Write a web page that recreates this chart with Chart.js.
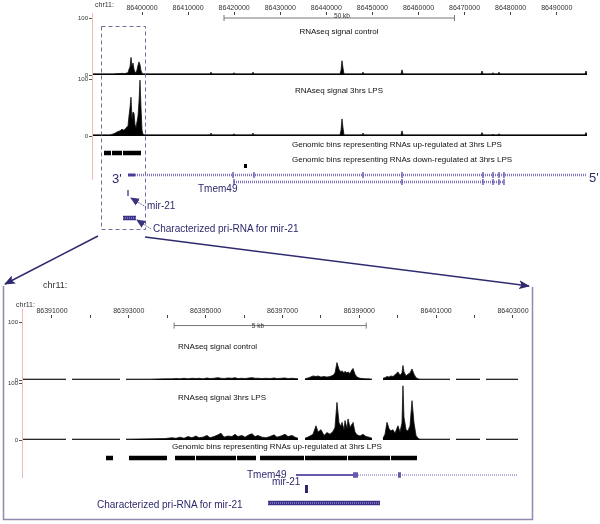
<!DOCTYPE html>
<html><head><meta charset="utf-8">
<script src="https://cdn.jsdelivr.net/npm/chart.js@4.4.1/dist/chart.umd.min.js"></script>
<style>
html,body{margin:0;padding:0;background:#fff;}
#wrap{position:relative;width:600px;height:524px;overflow:hidden;font-family:"Liberation Sans",Arial,Helvetica,sans-serif;background:#fff;}
canvas{position:absolute;z-index:1;}
.t{position:absolute;white-space:nowrap;line-height:1;z-index:3;}
svg{position:absolute;left:0;top:0;z-index:2;}
</style></head><body><div id="wrap">
<svg width="600" height="524">
 <defs>
  <marker id="a1" markerWidth="11" markerHeight="9" refX="10" refY="4.5" orient="auto" markerUnits="userSpaceOnUse"><path d="M0,0 L11,4.5 L0,9 L2.5,4.5 Z" fill="#2e2a6e"/></marker>
  <marker id="a2" markerWidth="9" markerHeight="8" refX="8" refY="4" orient="auto" markerUnits="userSpaceOnUse"><path d="M0,0 L9,4 L0,8 Z" fill="#3a347e"/></marker>
 </defs>
 <line x1="92.5" y1="13" x2="92.5" y2="180" stroke="#f3b9b9" stroke-width="1"/>
 <line x1="22.5" y1="309" x2="22.5" y2="478" stroke="#f3b9b9" stroke-width="1"/>
 <rect x="101.5" y="26.5" width="44" height="203" fill="none" stroke="#6e6e98" stroke-width="1" stroke-dasharray="4,3"/>
 <line x1="98" y1="236" x2="5" y2="284" stroke="#2e2a6e" stroke-width="1.5" marker-end="url(#a1)"/>
 <line x1="145" y1="237" x2="529" y2="286" stroke="#2e2a6e" stroke-width="1.5" marker-end="url(#a1)"/>
 <line x1="146" y1="207" x2="131" y2="198" stroke="#3a347e" stroke-width="0.8" stroke-dasharray="1.5,1" marker-end="url(#a2)"/>
 <line x1="151" y1="229" x2="137" y2="220" stroke="#3a347e" stroke-width="0.8" stroke-dasharray="1.5,1" marker-end="url(#a2)"/>
 <polyline points="3.5,286 3.5,519.5 532.5,519.5 532.5,287" fill="none" stroke="#8f8bb0" stroke-width="1.5"/>
</svg>
</div>
<script>
// ---------------- DATA ----------------
// top panel (chr11 overview)
const topRange = [86389150, 86496565];
const topTicks = [86400000,86410000,86420000,86430000,86440000,86450000,86460000,86470000,86480000,86490000];
const topTickLabels = ['86400000','86410000','86420000','86430000','86440000','86450000','86460000','86470000','86480000','86490000'];
const topScaleBar = [86417800, 86467800];
const topPos = [86389150,86393056,86393924,86394575,86395226,86395660,86396094,86396528,86396962,86397179,86397396,86397613,86397830,86398047,86398264,86398481,86398698,86398915,86399132,86399349,86399566,86399783,86400000,86400217,86400651,86414756,86414973,86415190,86419747,86419964,86420181,86423870,86424087,86424304,86434286,86434720,86435154,86442966,86443183,86443400,86443617,86443834,86447740,86447957,86448174,86456203,86456420,86456637,86457722,86458156,86458590,86473563,86473780,86473997,86475950,86476167,86476384,86477252,86477469,86477686,86490706,86491140,86491574,86496131,86496348,86496565];
const topCtrl = [2,2,2,2.5,2.5,3,2.5,3,4,10,14,31,15,21,10,5,4,9,17,23,18,8,3,2,2,2,5,2,2,4,2,2,5,2,2,2,2,2,8,25,12,2,2,5,2,2,9,2,2,2,2,2,7,2,2,4,2,2,5,2,2,2,2,2,7,2];
const topLps = [2,2,4,7,9,12,10,14,18,35,50,68,30,42,40,20,15,25,35,60,98,50,10,3,2,2,5,2,2,4,2,2,5,2,2,2,2,2,10,30,14,2,2,5,2,2,9,2,2,2,2,2,6,2,2,3,2,2,4,2,2,2,2,2,6,2];
const topBinsUpStart = [86391754, 86393490, 86395877];
const topBinsUpEnd   = [86393273, 86395660, 86399783];
const topBinsDownStart = [86422134];
const topBinsDownEnd   = [86422785];
const topTmemUtr = [86396962, 86398481];
const topTmemMain = [86398481, 86496565];
const topTmemAlt = [86419964, 86478554];
const topTmemMainExons = [86419750,86424300,86447960,86456420,86473990,86476170,86477470,86478550];
const topTmemAltExons = [86419964,86456420,86473990,86476170,86477470,86478550];
const topMir21 = 86396962;
const topPriRna = [86395877, 86398698];

// bottom panel (zoom)
const botRange = [86390220, 86403131];
const botTicks = [86391000,86392000,86393000,86394000,86395000,86396000,86397000,86398000,86399000,86400000,86401000,86402000,86403000];
const botTickLabels = ['86391000','','86393000','','86395000','','86397000','','86399000','','86401000','','86403000'];
const botScaleBar = [86394180, 86399180];
const botPos = [86390220,86391365,86391417,86391522,86392771,86392849,86392927,86393552,86393942,86394125,86394229,86394333,86394437,86394541,86394645,86394749,86394827,86394931,86395036,86395114,86395218,86395322,86395400,86395478,86395582,86395686,86395764,86395842,86395947,86396025,86396129,86396207,86396285,86396363,86396467,86396571,86396675,86396780,86396858,86396962,86397066,86397144,86397248,86397326,86397404,86397482,86397586,86397691,86397795,86397873,86397925,86398003,86398081,86398159,86398237,86398315,86398367,86398419,86398472,86398524,86398550,86398602,86398628,86398680,86398706,86398758,86398810,86398836,86398888,86398940,86399018,86399096,86399174,86399252,86399331,86399461,86399617,86399669,86399721,86399773,86399825,86399877,86399929,86400007,86400059,86400111,86400137,86400163,86400216,86400268,86400320,86400372,86400424,86400476,86400528,86400580,86401361,86401413,86401517,86402142,86402194,86402298,86403131];
const botCtrl = [1.5,1.5,null,1.5,1.5,null,1.5,1.5,2,2, 2.5,2,3,2,3,2.5,3,2,3.5,2.5, 3,4,3,2.5,3.5,3,4,2.5,3,2.5, 3.5,4,3,3,2.5,3,2.5,3.5,2.5,3, 3.5,2.5,3,2.5,2,null,2,4,7,6, 7,5,6,5,6,8,12,30,18,14, 16,12,15,12,14,11,18,20,10,5, 3,2.5,2,2,1.5,null,3,4,6,5, 7,6,9,14,8,12,25,14,7,10, 12,19,10,4,2,1.5,1.5,null,1.5,1.5, null,1.5,1.5];
const botLps = [1.5,1.5,null,1.5,1.5,null,1.5,2,2.5,4, 3,5,3,6,4,7,4,5,8,4, 6,9,12,5,7,6,10,6,8,5, 9,11,6,8,5,4,6,9,5,7, 10,6,8,5,3,null,3,6,10,25, 14,18,8,13,10,15,22,66,30,24, 31,18,34,20,37,22,28,31,14,9, 7,10,6,5,3,null,3,10,31,20, 16,18,12,25,14,30,95,40,18,16, 25,69,30,8,3,1.5,1.5,null,1.5,1.5, null,1.5,1.5];
const botBinsStart = [86392407,86393005,86394203,86394749,86395816,86396415,86397586,86398706,86399825];
const botBinsEnd   = [86392589,86393994,86394723,86395790,86396311,86397560,86398680,86399799,86400502];
const botTmemSolid = [86397352, 86398836];
const botTmemIntron = [86398966, 86403131];
const botTmemExonStart = [86398836, 86400007];
const botTmemExonEnd   = [86398966, 86400085];
const botMir21 = [86397586, 86397665];
const botPriRna = [86396623, 86399539];

// labels
const texts = [
  ['chr11:', 95, 4, 7, '#333', false],
  ['50 kb', 342, 16, 6.5, '#333', true],
  ['RNAseq signal control', 339, 32, 8, '#111', true],
  ['RNAseq signal 3hrs LPS', 339, 91, 8, '#111', true],
  ['Genomic bins representing RNAs up-regulated at 3hrs LPS', 292, 145, 8, '#111', false],
  ['Genomic bins representing RNAs down-regulated at 3hrs LPS', 292, 160, 8, '#111', false],
  ["3'", 112, 178, 13, '#2d2a6c', false],
  ["5'", 589, 177, 13, '#2d2a6c', false],
  ['Tmem49', 198, 189, 10, '#2d2a6c', false],
  ['mir-21', 147, 206, 10, '#2d2a6c', false],
  ['Characterized pri-RNA for mir-21', 153, 229, 10, '#2d2a6c', false],
  ['chr11:', 43, 285, 9, '#333', false],
  ['chr11:', 16, 304, 7, '#333', false],
  ['5 kb', 258, 326, 6.5, '#333', true],
  ['RNAseq signal control', 178, 347, 8, '#111', false],
  ['RNAseq signal 3hrs LPS', 178, 398, 8, '#111', false],
  ['Genomic bins representing RNAs up-regulated at 3hrs LPS', 172, 447, 8, '#111', false],
  ['Tmem49', 247, 475, 10, '#2d2a6c', false],
  ['mir-21', 272, 482, 10, '#2d2a6c', false],
  ['Characterized pri-RNA for mir-21', 97, 505, 10, '#2d2a6c', false]
];

// ---------------- RENDER ----------------
const F = '"Liberation Sans", Arial, Helvetica, sans-serif';
Chart.defaults.font.family = F;
const wrap = document.getElementById('wrap');

function mk(left, top, w, h) {
  const c = document.createElement('canvas');
  c.width = w; c.height = h;
  c.style.left = left + 'px'; c.style.top = top + 'px';
  c.style.width = w + 'px'; c.style.height = h + 'px';
  wrap.appendChild(c);
  return c;
}
function cfg(padding, scales, datasets) {
  return { type: 'line', data: { datasets },
    options: { responsive: false, maintainAspectRatio: false, animation: false, events: [], devicePixelRatio: 1,
      layout: { padding },
      plugins: { legend: { display: false }, tooltip: { enabled: false }, title: { display: false } },
      elements: { point: { radius: 0 }, line: { tension: 0 } },
      scales } };
}
function ruler(canvas, range, ticks, labels, pad, axisH, yMax, bar, barRow) {
  new Chart(canvas, cfg(pad, {
    x: { type: 'linear', position: 'top', min: range[0], max: range[1],
      afterBuildTicks: s => { s.ticks = ticks.map(v => ({ value: v })); },
      afterFit: s => { s.height = axisH; s.paddingLeft = 0; s.paddingRight = 0; },
      ticks: { font: { size: 7, family: F }, color: '#333', padding: 0, maxRotation: 0, minRotation: 0, autoSkip: false,
        callback: (v, i) => labels[i] },
      grid: { drawOnChartArea: false, tickLength: 3, color: '#444', lineWidth: 1 },
      border: { display: false } },
    y: { display: false, min: 0, max: yMax, reverse: true }
  }, [{ data: [{ x: bar[0], y: barRow }, { x: bar[1], y: barRow }], borderColor: '#777', borderWidth: 1,
        pointStyle: 'line', pointRotation: 90, pointRadius: 3, pointBorderColor: '#777', pointBorderWidth: 1 }]));
}
function signal(canvas, range, pos, vals, pad, yW) {
  new Chart(canvas, cfg(pad, {
    x: { type: 'linear', display: false, min: range[0], max: range[1] },
    y: { min: 0, max: 100,
      afterBuildTicks: s => { s.ticks = [{ value: 0 }, { value: 100 }]; },
      afterFit: s => { s.width = yW; s.paddingTop = 0; s.paddingBottom = 0; },
      ticks: { font: { size: 6, family: F }, color: '#333', padding: 1 },
      grid: { drawOnChartArea: false, tickLength: 3, color: '#555' },
      border: { display: false } }
  }, [{ data: pos.map((p, i) => ({ x: p, y: vals[i] })), fill: 'origin', backgroundColor: '#000',
        borderColor: '#111', borderWidth: 0.8, pointRadius: 0, spanGaps: false }]));
}
function segs(starts, ends, row) {
  const d = [];
  starts.forEach((s, i) => { d.push({ x: s, y: row }, { x: ends[i], y: row }, { x: ends[i], y: null }); });
  return d;
}
function vmarks(list, r1, r2) {
  const d = [];
  list.forEach(p => { d.push({ x: p, y: r1 }, { x: p, y: r2 }, { x: p, y: null }); });
  return d;
}
function ds(data, color, width, dash) {
  return { data, borderColor: color, borderWidth: width, borderCapStyle: 'butt', borderDash: dash || [],
    pointRadius: 0, fill: false, spanGaps: false };
}
function features(canvas, range, h, datasets) {
  new Chart(canvas, cfg(0, {
    x: { type: 'linear', display: false, min: range[0], max: range[1] },
    y: { type: 'linear', display: false, min: 0, max: h, reverse: true }
  }, datasets));
}

// top panel
ruler(mk(60, 0, 540, 26), topRange, topTicks, topTickLabels, { left: 32, right: 13, top: 0, bottom: 0 }, 15, 11, topScaleBar, 5.5);
signal(mk(60, 13, 540, 67), topRange, topPos, topCtrl, { left: 0, right: 13, top: 5, bottom: 5 }, 32);
signal(mk(60, 74, 540, 67), topRange, topPos, topLps, { left: 0, right: 13, top: 5, bottom: 5 }, 32);
const topRows = { up: 13, down: 26, main: 35, alt: 42, mirTop: 50, mirBot: 56, pri: 78 };
features(mk(92, 140, 495, 95), topRange, 95, [
  ds(segs([topPriRna[0]], [topPriRna[1]], topRows.pri), '#b3aae0', 1.2, [1, 1]),
  ds(segs([topPriRna[0]], [topPriRna[1]], topRows.pri), '#3c318a', 4.5),
  ds(vmarks([topMir21], topRows.mirTop, topRows.mirBot), '#2f2873', 1.2),
  ds(vmarks(topTmemMainExons, topRows.main - 3, topRows.main + 3), '#5c4ea6', 1.3),
  ds(vmarks(topTmemAltExons, topRows.alt - 3, topRows.alt + 3), '#5c4ea6', 1.3),
  ds(segs([topTmemUtr[0]], [topTmemUtr[1]], topRows.main), '#4b3d96', 3),
  ds(segs([topTmemMain[0]], [topTmemMain[1]], topRows.main), '#7f72bf', 2.5, [1, 1]),
  ds(segs([topTmemAlt[0]], [topTmemAlt[1]], topRows.alt), '#7f72bf', 2.5, [1, 1]),
  ds(segs(topBinsDownStart, topBinsDownEnd, topRows.down), '#000', 4),
  ds(segs(topBinsUpStart, topBinsUpEnd, topRows.up), '#000', 4.5)
]);

// bottom panel
ruler(mk(0, 300, 540, 34), botRange, botTicks, botTickLabels, { left: 22, right: 22, top: 0, bottom: 0 }, 18, 16, botScaleBar, 11);
signal(mk(0, 317, 540, 68), botRange, botPos, botCtrl, { left: 0, right: 22, top: 5, bottom: 5 }, 22);
signal(mk(0, 378, 540, 67), botRange, botPos, botLps, { left: 0, right: 22, top: 5, bottom: 5 }, 22);
const botRows = { bins: 13, tmem: 30, mir: 44, pri: 58 };
features(mk(22, 445, 496, 67), botRange, 67, [
  ds(segs([botPriRna[0]], [botPriRna[1]], botRows.pri), '#b3aae0', 1.2, [1, 1]),
  ds(segs([botPriRna[0]], [botPriRna[1]], botRows.pri), '#3c318a', 4.5),
  ds(segs([botMir21[0]], [botMir21[1]], botRows.mir), '#2f2873', 8),
  ds(segs(botTmemExonStart, botTmemExonEnd, botRows.tmem), '#6a58ad', 5.5),
  ds(segs([botTmemSolid[0]], [botTmemSolid[1]], botRows.tmem), '#6a58ad', 2),
  ds(segs([botTmemIntron[0]], [botTmemIntron[1]], botRows.tmem), '#8f82c8', 1.3, [1, 1]),
  ds(segs(botBinsStart, botBinsEnd, botRows.bins), '#000', 4.5)
]);

// texts
texts.forEach(([s, x, y, size, color, mid]) => {
  const d = document.createElement('div');
  d.className = 't';
  d.textContent = s;
  d.style.left = x + 'px'; d.style.top = y + 'px';
  d.style.fontSize = size + 'px'; d.style.color = color;
  d.style.transform = mid ? 'translate(-50%,-50%)' : 'translateY(-50%)';
  wrap.appendChild(d);
});
</script>
</body></html>
